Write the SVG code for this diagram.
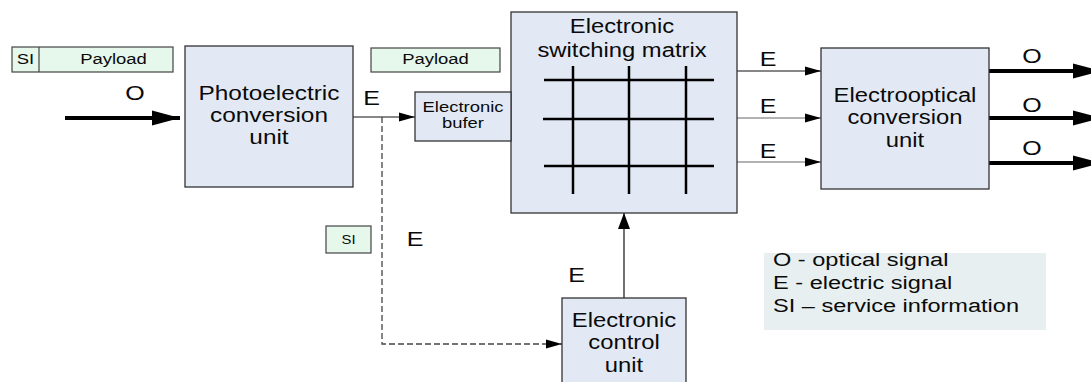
<svg xmlns="http://www.w3.org/2000/svg" width="1091" height="382" viewBox="0 0 1091 382">
<style>
.node { fill:#e2e9f5; stroke:#333; stroke-width:1.3; }
.pl { fill:#e6f8ec; stroke:#444; stroke-width:1.2; }
text { font-family:"Liberation Sans", Arial, sans-serif; fill:#0a0a0a; }
.c { text-anchor:middle; }
.b { font-size:20px; }
.lb { font-size:21px; }
.s { font-size:15.5px; }
.thin { stroke:#111; stroke-width:1.2; fill:none; }
.gray { stroke:#666; }
.thick { stroke:#000; stroke-width:4; fill:none; }
.dash { stroke:#444; stroke-width:1.3; stroke-dasharray:6 3; fill:none; }
.grid { stroke:#000; stroke-width:2.5; }
</style>
<defs>
<marker id="ah" markerUnits="userSpaceOnUse" markerWidth="16" markerHeight="10" refX="16" refY="5" orient="auto"><path d="M0,0.5 L16,5 L0,9.5 z" fill="#000"/></marker>
<marker id="ahU" markerUnits="userSpaceOnUse" markerWidth="16" markerHeight="12" refX="16" refY="6" orient="auto"><path d="M0,0 L16,6 L0,12 z" fill="#000"/></marker>
<marker id="ahT" markerUnits="userSpaceOnUse" markerWidth="28" markerHeight="16" refX="28" refY="8" orient="auto"><path d="M0,0.5 L28,8 L0,15.5 z" fill="#000"/></marker>
</defs>

<g id="connectors">
<path class="thick" d="M65,118 L180,118" marker-end="url(#ahT)"/>
<path class="thin" d="M353,117 L415,117" marker-end="url(#ah)"/>
<path class="dash" d="M382,117 L382,344 L562,344" marker-end="url(#ah)"/>
<path class="thin" d="M737,71 L821,71" marker-end="url(#ah)"/>
<path class="thin gray" d="M737,118 L821,118" marker-end="url(#ah)"/>
<path class="thin gray" d="M737,162 L821,162" marker-end="url(#ah)"/>
<path class="thick" d="M989,71 L1101,71" marker-end="url(#ahT)"/>
<path class="thick" d="M989,118 L1101,118" marker-end="url(#ahT)"/>
<path class="thick" d="M989,163 L1101,163" marker-end="url(#ahT)"/>
<path class="thin" d="M624,298 L624,213" marker-end="url(#ahU)"/>
<text class="lb c" transform="translate(135,100) scale(1.19,1)">O</text>
<text class="lb c" transform="translate(371.5,105) scale(1.19,1)">E</text>
<text class="lb c" transform="translate(768,66) scale(1.19,1)">E</text>
<text class="lb c" transform="translate(768,113) scale(1.19,1)">E</text>
<text class="lb c" transform="translate(768,158) scale(1.19,1)">E</text>
<text class="lb c" transform="translate(1032,63) scale(1.19,1)">O</text>
<text class="lb c" transform="translate(1032,112) scale(1.19,1)">O</text>
<text class="lb c" transform="translate(1032,155) scale(1.19,1)">O</text>
<text class="lb c" transform="translate(415,246) scale(1.19,1)">E</text>
<text class="lb c" transform="translate(576.5,282) scale(1.19,1)">E</text>
</g>

<g id="packet-si-payload">
<rect class="pl" x="12" y="47" width="161" height="25"/>
<line x1="39" y1="47" x2="39" y2="72" stroke="#444" stroke-width="1.2"/>
<text class="s c" transform="translate(25.5,64) scale(1.19,1)">SI</text>
<text class="s c" transform="translate(113.5,64) scale(1.19,1)">Payload</text>
</g>

<g id="packet-payload">
<rect class="pl" x="371" y="48" width="129" height="24"/>
<text class="s c" transform="translate(435.5,64) scale(1.19,1)">Payload</text>
</g>

<g id="packet-si">
<rect class="pl" x="326" y="226" width="45" height="27"/>
<text class="c" style="font-size:12.5px" transform="translate(348.5,244) scale(1.19,1)">SI</text>
</g>

<g id="photoelectric">
<rect class="node" x="185" y="46" width="168" height="141"/>
<text class="c" style="font-size:20.5px" transform="translate(269,100) scale(1.19,1)">Photoelectric</text>
<text class="c" style="font-size:20.5px" transform="translate(269,122) scale(1.19,1)">conversion</text>
<text class="c" style="font-size:20.5px" transform="translate(269,144) scale(1.19,1)">unit</text>
</g>

<g id="matrix">
<rect class="node" x="511" y="12" width="226" height="201"/>
<text class="b c" transform="translate(622,33) scale(1.19,1)">Electronic</text>
<text class="b c" transform="translate(622,57) scale(1.19,1)">switching matrix</text>
<g class="grid">
<line x1="544" y1="80" x2="714" y2="80"/>
<line x1="543" y1="119" x2="714" y2="119"/>
<line x1="544" y1="166" x2="714" y2="166"/>
<line x1="573" y1="66" x2="573" y2="194"/>
<line x1="629" y1="66" x2="629" y2="194"/>
<line x1="686" y1="66" x2="686" y2="194"/>
</g>
</g>

<g id="buffer">
<rect class="node" x="415" y="92" width="96" height="49"/>
<text class="s c" transform="translate(463,112) scale(1.19,1)">Electronic</text>
<text class="s c" transform="translate(463,128) scale(1.19,1)">bufer</text>
</g>

<g id="electrooptical">
<rect class="node" x="821" y="48" width="168" height="141"/>
<text class="b c" transform="translate(905,102) scale(1.19,1)">Electrooptical</text>
<text class="b c" transform="translate(905,124) scale(1.19,1)">conversion</text>
<text class="b c" transform="translate(905,147) scale(1.19,1)">unit</text>
</g>

<g id="control">
<rect class="node" x="562" y="298" width="124" height="100"/>
<text class="b c" transform="translate(624,327) scale(1.19,1)">Electronic</text>
<text class="b c" transform="translate(624,349) scale(1.19,1)">control</text>
<text class="b c" transform="translate(624,372) scale(1.19,1)">unit</text>
</g>

<g id="legend">
<rect x="764" y="253" width="282" height="77" fill="#e7eff0"/>
<text style="font-size:19px" transform="translate(773,266) scale(1.24,1)">O - optical signal</text>
<text style="font-size:19px" transform="translate(773,289) scale(1.24,1)">E - electric signal</text>
<text style="font-size:19px" transform="translate(773,312) scale(1.24,1)">SI – service information</text>
</g>
</svg>
